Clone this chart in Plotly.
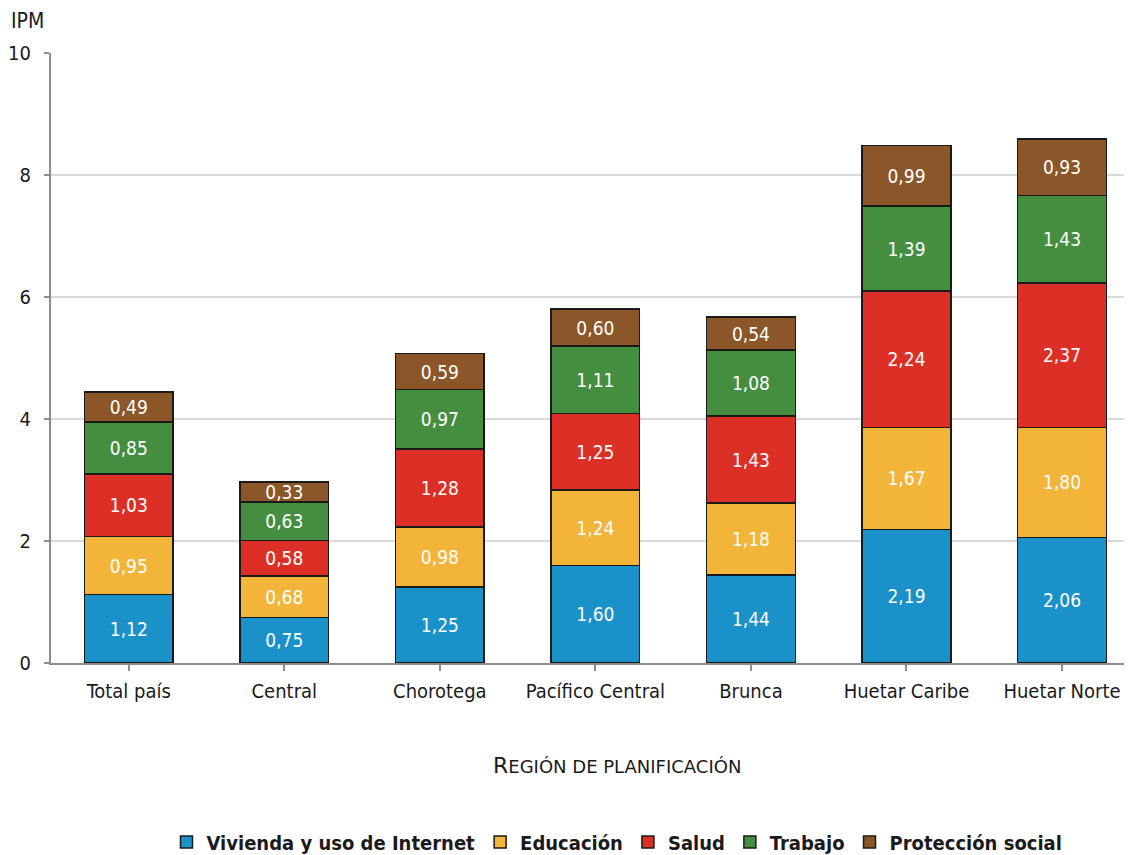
import plotly.graph_objects as go

categories = ["Total país", "Central", "Chorotega", "Pacífico Central", "Brunca", "Huetar Caribe", "Huetar Norte"]
vivienda = [1.12, 0.75, 1.25, 1.60, 1.44, 2.19, 2.06]
educacion = [0.95, 0.68, 0.98, 1.24, 1.18, 1.67, 1.80]
salud = [1.03, 0.58, 1.28, 1.25, 1.43, 2.24, 2.37]
trabajo = [0.85, 0.63, 0.97, 1.11, 1.08, 1.39, 1.43]
proteccion = [0.49, 0.33, 0.59, 0.60, 0.54, 0.99, 0.93]

series = [
    ("Vivienda y uso de Internet", vivienda, "#1A91C8"),
    ("Educación", educacion, "#F3B43A"),
    ("Salud", salud, "#DC3027"),
    ("Trabajo", trabajo, "#458E40"),
    ("Protección social", proteccion, "#8B5628"),
]

FONT = "DejaVu Sans Condensed, sans-serif"
OFF = 8  # page body margin
W, H = 1132 - OFF, 855 - OFF
L, T, B = 51 - OFF, 53 - OFF, H - (663 - OFF)
PW, PH = W - L, H - T - B

fig = go.Figure()
for name, vals, col in series:
    fig.add_trace(go.Bar(
        x=list(range(len(categories))), y=vals, name=name,
        marker=dict(color=col, line=dict(color="#1a1a1a", width=1.5)),
        width=0.57,
        texttemplate="%{y:.2f}", textposition="inside", insidetextanchor="middle",
        textangle=0, textfont=dict(color="white", size=19, family=FONT),
        hoverinfo="skip",
    ))

fig.update_layout(
    barmode="stack",
    separators=",.",
    width=W, height=H,
    margin=dict(l=L, r=0, t=T, b=B, autoexpand=False),
    plot_bgcolor="white", paper_bgcolor="white",
    font=dict(family=FONT, size=20, color="#1a1a1a"),
    uniformtext=dict(minsize=19, mode="show"),
    showlegend=True,
    legend=dict(orientation="h", x=(617 - OFF) / W, xanchor="center", xref="container",
                y=1 - (842 - OFF) / H, yanchor="middle", yref="container", traceorder="normal",
                font=dict(size=20, family=FONT, color="#1a1a1a", weight="bold"),
                itemwidth=30),
    xaxis=dict(
        range=[-0.5, 6.45], automargin=False,
        tickmode="array", tickvals=list(range(len(categories))), ticktext=categories,
        tickson="boundaries",
        showline=True, linecolor="#8c8c8c", linewidth=2,
        ticks="outside", ticklen=6, tickcolor="#8c8c8c", tickwidth=2,
        showgrid=False, zeroline=False, ticklabelstandoff=3,
        tickfont=dict(size=20),
    ),
    yaxis=dict(
        range=[0, 10], dtick=2, automargin=False,
        showline=True, linecolor="#8c8c8c", linewidth=2,
        ticks="outside", ticklen=5, tickcolor="#8c8c8c", tickwidth=2,
        showgrid=True, gridcolor="#d9d9d9", gridwidth=1.5,
        zeroline=False, tickfont=dict(size=20), ticklabelstandoff=9,
    ),
)
fig.add_annotation(text="IPM", xref="paper", yref="paper", x=-(L - 2) / PW,
                   y=1 + T / PH,
                   xanchor="left", yanchor="top", showarrow=False, borderpad=0,
                   font=dict(size=21, family=FONT))
fig.add_annotation(text="R<span style='font-size:18px'>EGIÓN DE PLANIFICACIÓN</span>",
                   xref="paper", yref="paper", x=(617 - 51) / PW, y=-(765 - 663) / PH,
                   xanchor="center", yanchor="middle", showarrow=False,
                   font=dict(size=22, family="DejaVu Sans, sans-serif"))

fig.write_html("out.html")
